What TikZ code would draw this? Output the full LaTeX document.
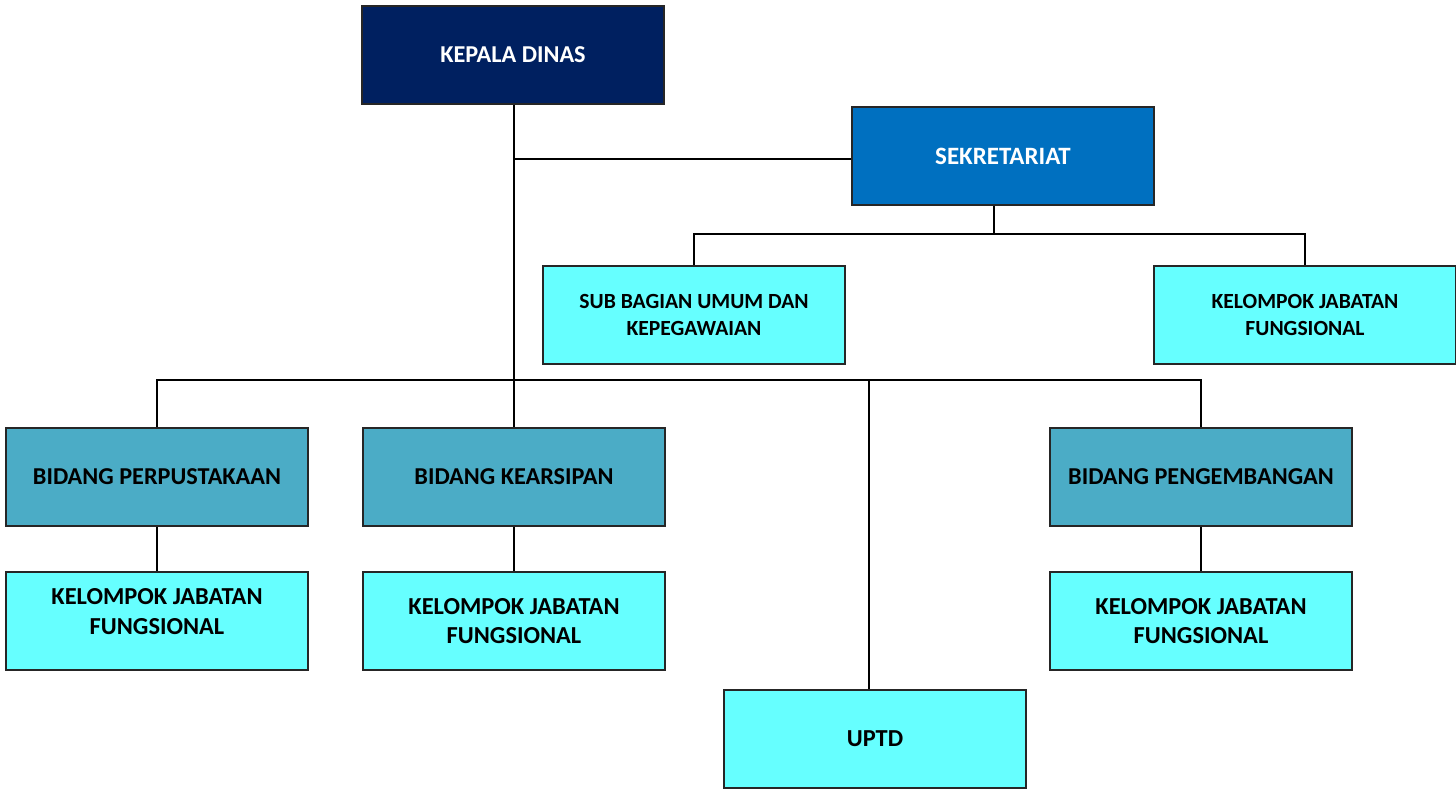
\documentclass[tikz,border=0pt]{standalone}
\usepackage{fontspec}
\setmainfont{Carlito}
\definecolor{navy}{HTML}{002060}
\definecolor{sekblue}{HTML}{0070C0}
\definecolor{bidteal}{HTML}{4BACC6}
\definecolor{lightcyan}{HTML}{66FFFF}

\begin{document}
\begin{tikzpicture}
  [x=0.02cm,y=-0.02cm,line width=1.1pt,
   every node/.style={draw=black!85,line width=1.1pt,minimum width=6.04cm,minimum height=1.96cm,
     align=center,font=\bfseries\fontsize{13.8}{17}\selectfont},
   headbox/.style={fill=navy,text=white},
   sekbox/.style={fill=sekblue,text=white,font=\bfseries\fontsize{14.2}{17}\selectfont},
   bidbox/.style={fill=bidteal},
   subbox/.style={fill=lightcyan,font=\bfseries\fontsize{12.3}{15.3}\selectfont},
   kjfbox/.style={fill=lightcyan,font=\bfseries\fontsize{13.9}{17}\selectfont}]
  \useasboundingbox (0,0) rectangle (1456,789);

  \node[headbox] (kd) at (513,55) {KEPALA DINAS};
  \node[sekbox] (sek) at (1003,156) {SEKRETARIAT};
  \node[subbox] (sbu) at (694,315) {SUB BAGIAN UMUM DAN\\KEPEGAWAIAN};
  \node[subbox] (kft) at (1305,315) {KELOMPOK JABATAN\\FUNGSIONAL};

  \node[bidbox] (bp) at (157,477) {BIDANG PERPUSTAKAAN};
  \node[bidbox] (bk) at (514,477) {BIDANG KEARSIPAN};
  \node[bidbox] (bpg) at (1201,477) {BIDANG PENGEMBANGAN};

  \node[kjfbox,text depth=11pt] (kf1) at (157,621) {KELOMPOK JABATAN\\FUNGSIONAL};
  \node[kjfbox] (kf2) at (514,621) {KELOMPOK JABATAN\\FUNGSIONAL};
  \node[kjfbox] (kf3) at (1201,621) {KELOMPOK JABATAN\\FUNGSIONAL};
  \node[kjfbox] (up) at (875,739) {UPTD};

  \coordinate (sj) at (514,159);
  \coordinate (sbus) at (994,234);
  \coordinate (bus) at (514,380);
  \coordinate (ubus) at (869,380);

  \draw (kd.south -| bk.north) -- (bk.north);
  \draw (sj) -- (sj -| sek.west);
  \draw (sek.south -| sbus) -- (sbus);
  \draw (sbu.north) |- (sbus) -| (kft.north);
  \draw (bp.north) |- (bus) -| (bpg.north);
  \draw (ubus) -- (ubus |- up.north);
  \foreach \from/\to in {bp/kf1,bk/kf2,bpg/kf3}
    \draw (\from) -- (\to);
\end{tikzpicture}
\end{document}
